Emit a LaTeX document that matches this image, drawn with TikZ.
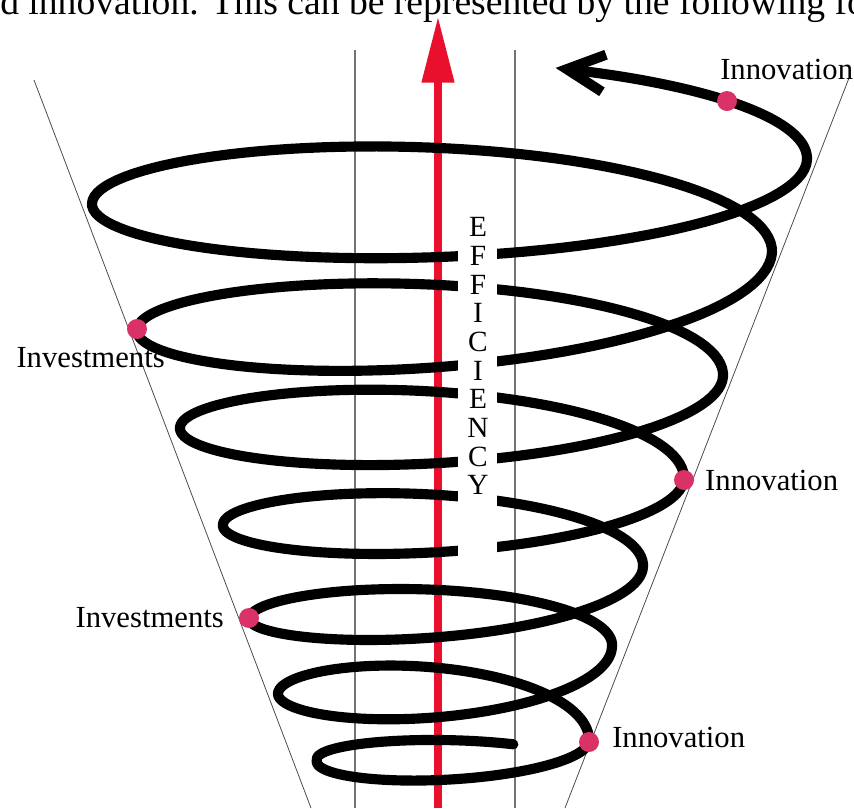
\documentclass[tikz,border=0pt]{standalone}
\usepackage{fontspec}
\setmainfont{Liberation Serif}
\usetikzlibrary{arrows.meta,positioning}
\definecolor{effred}{RGB}{232,16,44}
\definecolor{dotpink}{RGB}{218,50,102}
\tikzset{
  spiral/.style={line width=7.6pt, line cap=round},
  conic/.style={draw=black!70, line width=0.6pt},
  guide/.style={draw=black!55, line width=1pt},
  effarrow/.style={draw=effred, line width=6.5pt, -{Triangle[length=50pt, width=23pt]}},
  hotspot/.style={circle, fill=dotpink, inner sep=0pt, minimum size=15pt},
  lbl/.style={inner sep=0pt, font=\fontsize{23}{26}\selectfont},
  letter/.style={inner sep=0pt, font=\fontsize{22}{24}\selectfont},
}
\begin{document}
\begin{tikzpicture}[x=0.75pt, y=-0.75pt]
  \useasboundingbox (0,0) rectangle (854,808);
  \clip (0,0) rectangle (854,808);
  \def\cx{440}

  % line of running text, cut at the top
  \node[anchor=base west, inner sep=0pt, font=\fontsize{28.2}{30}\selectfont] (body) at (0,14)
    {d innovation. This can be represented by the following fo};

  % cone sides
  \coordinate (coneLt) at (34,80);   \coordinate (coneLb) at (311,808);
  \coordinate (coneRt) at (849,78);  \coordinate (coneRb) at (565,808);
  \draw[conic] (coneLt) -- (coneLb);
  \draw[conic] (coneRt) -- (coneRb);

  % guides
  \coordinate (guideLt) at (355,50); \coordinate (guideLb) at (355,808);
  \coordinate (guideRt) at (515,50); \coordinate (guideRb) at (515,808);
  \draw[guide] (guideLt) -- (guideLb);
  \draw[guide] (guideRt) -- (guideRb);

  % efficiency axis
  \coordinate (effbase) at (438,808);
  \coordinate (efftip) at (438,16);
  \draw[effarrow] (effbase) -- (efftip);

  % spiral, top piece with the arrow
  \draw[spiral, {Straight Barb[length=28pt, width=28pt]}-] plot[domain=288:360, samples=40]
    ({\cx+(385-18*(\x-180)/180)*cos(\x)}, {120+40*(\x-180)/180+80*sin(\x)});
  % spiral, half turns from one extreme to the next
  \foreach \xa/\ya/\xb/\yb/\bb/\ta/\tb/\tz in {
      807/160/92/203/75.5/0/180/0,
      92/203/772/253/80/180/360/180,
      772/253/137/329/76/0/180/0,
      137/329/723/377/68/180/360/180,
      723/377/180/427/61/0/180/0,
      180/427/684/480/61.5/180/360/180,
      684/480/223/524/50/0/180/0,
      223/524/643/567/50.5/180/360/180,
      643/567/249/618/44.5/0/180/0,
      249/618/612/647/42.5/180/360/180,
      612/647/278/693/47/0/180/0,
      278/693/589/742/49.5/180/360/180,
      589/742/317/760/29/0/180/0,
      317/760/580/764/22/180/303/180} {
    \draw[spiral] plot[domain=\ta:\tb, samples=60]
      ({\cx+(abs(\xa-\cx)+(abs(\xb-\cx)-abs(\xa-\cx))*(\x-\tz)/180)*cos(\x)},
       {\ya+(\yb-\ya)*(\x-\tz)/180+\bb*sin(\x)});
  }

  % gap for the word
  \fill[white] (458,240) rectangle (497,566);
  \foreach \ch [count=\i from 0] in {E,F,F,I,C,I,E,N,C,Y}
    \node[letter] (eff\i) at (478,{227+28.7*\i}) {\ch};

  % points on the spiral
  \node[hotspot] (dotA) at (727,101) {};
  \node[hotspot] (dotB) at (137,329) {};
  \node[hotspot] (dotC) at (684,480) {};
  \node[hotspot] (dotD) at (249,618) {};
  \node[hotspot] (dotE) at (589,742) {};

  \node[lbl, anchor=west] (innovA) at (720,69) {Innovation};
  \node[lbl, anchor=east] (investB) at (165,358) {Investments};
  \node[lbl, right=8pt of dotC] (innovC) {Innovation};
  \node[lbl, left=11pt of dotD] (investD) {Investments};
  \node[lbl, anchor=west] (innovE) at (612,737) {Innovation};
\end{tikzpicture}
\end{document}
